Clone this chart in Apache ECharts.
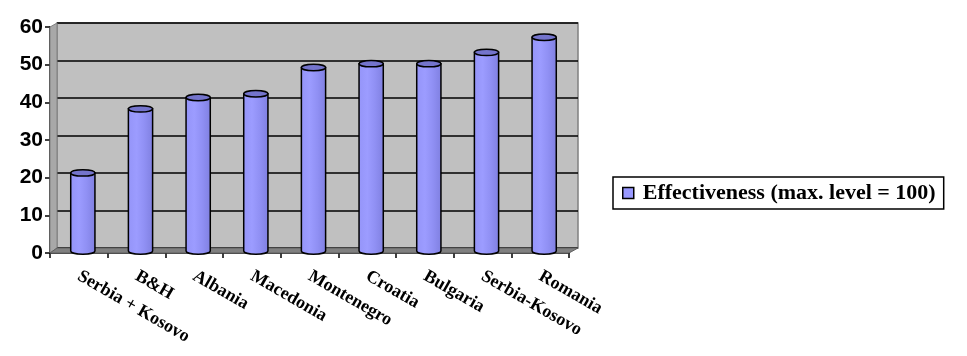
<!DOCTYPE html>
<html>
<head>
<meta charset="utf-8">
<script src="https://cdn.jsdelivr.net/npm/echarts@6/dist/echarts.min.js"></script>
<style>
  html, body { margin: 0; padding: 0; background: #fff; }
  #chart { width: 967px; height: 356px; }
</style>
</head>
<body>
<div id="chart"></div>
<script>
const countries = ['Serbia + Kosovo', 'B&H', 'Albania', 'Macedonia', 'Montenegro', 'Croatia', 'Bulgaria', 'Serbia-Kosovo', 'Romania'];
const effectiveness = [21, 38, 41, 42, 49, 50, 50, 53, 57];
const seriesName = 'Effectiveness (max. level = 100)';
const yTicks = [0, 10, 20, 30, 40, 50, 60];

// front plane (axes) and back wall, offset to fake the 3D depth
const front = { left: 50, top: 27, width: 519, height: 226 };
const back = { left: 57, top: 23, width: 521, height: 225 };

const chart = echarts.init(document.getElementById('chart'), null, { renderer: 'canvas' });

function cylinder(params, api) {
  const top = api.coord([api.value(0), api.value(1)]);
  const bottom = api.coord([api.value(0), 0]);
  const w = api.size([1, 0])[0] * 0.42;
  const cx = top[0] + 4;
  const l = cx - w / 2, r = cx + w / 2;
  const t = top[1] - 1, b = bottom[1] - 2;
  const rx = w / 2, ry = 3.2;
  return {
    type: 'group',
    children: [
      {
        type: 'path',
        shape: { pathData: `M${l},${t} L${l},${b} A${rx},${ry} 0 0 0 ${r},${b} L${r},${t} Z` },
        style: {
          fill: new echarts.graphic.LinearGradient(0, 0, 1, 0, [
            { offset: 0, color: '#9494f8' },
            { offset: 0.35, color: '#9c9cff' },
            { offset: 0.65, color: '#9090f4' },
            { offset: 1, color: '#7f7fe0' }
          ]),
          stroke: '#000', lineWidth: 1.5
        }
      },
      {
        type: 'path',
        shape: { pathData: `M${l},${t} A${rx},${ry} 0 1 0 ${r},${t} A${rx},${ry} 0 1 0 ${l},${t} Z` },
        style: { fill: '#7474cc', stroke: '#000', lineWidth: 1.5 }
      }
    ]
  };
}

const option = {
  animation: false,
  backgroundColor: '#ffffff',
  grid: [
    Object.assign({ show: false, containLabel: false }, front),
    Object.assign({ show: true, backgroundColor: '#c0c0c0', borderColor: '#808080', borderWidth: 1.5, containLabel: false, z: 0 }, back)
  ],
  xAxis: [
    {
      type: 'category', gridIndex: 0, data: countries,
      axisLine: { show: true, lineStyle: { color: '#000', width: 1.5 } },
      axisTick: { show: true, length: 5, lineStyle: { color: '#000', width: 1.5 } },
      axisLabel: {
        interval: 0, rotate: -30, margin: 22,
        color: '#000', fontFamily: 'Liberation Serif', fontWeight: 'bold', fontSize: 18
      }
    },
    { type: 'category', gridIndex: 1, data: countries, show: false }
  ],
  yAxis: [
    {
      type: 'value', gridIndex: 0, min: yTicks[0], max: yTicks[yTicks.length - 1], interval: 10,
      axisLine: { show: true, lineStyle: { color: '#000', width: 1.5 } },
      axisTick: { show: true, length: 5, lineStyle: { color: '#000', width: 1.5 } },
      splitLine: { show: false },
      axisLabel: { margin: 7, color: '#000', fontFamily: 'Liberation Sans', fontWeight: 'bold', fontSize: 21 }
    },
    {
      type: 'value', gridIndex: 1, min: yTicks[0], max: yTicks[yTicks.length - 1], interval: 10,
      axisLine: { show: false }, axisTick: { show: false }, axisLabel: { show: false },
      splitLine: { show: true, lineStyle: { color: '#000', width: 1.5 } }
    }
  ],
  legend: {
    data: [seriesName],
    orient: 'vertical',
    left: 613, top: 177,
    padding: [5, 8, 5, 9],
    borderColor: '#000', borderWidth: 1.5,
    icon: 'rect', itemWidth: 11, itemHeight: 11,
    itemStyle: { borderColor: '#000', borderWidth: 1.5 },
    textStyle: { color: '#000', fontFamily: 'Liberation Serif', fontWeight: 'bold', fontSize: 22, padding: [0, 0, 0, 4] }
  },
  graphic: [
    // left side wall
    {
      type: 'polygon', z: 1, silent: true,
      shape: { points: [[front.left, front.top], [back.left, back.top], [back.left, back.top + back.height], [front.left, front.top + front.height]] },
      style: { fill: '#a8a8a8', stroke: '#808080', lineWidth: 1 }
    },
    // floor
    {
      type: 'polygon', z: 1, silent: true,
      shape: { points: [[front.left, front.top + front.height], [back.left, back.top + back.height], [back.left + back.width, back.top + back.height], [front.left + front.width, front.top + front.height]] },
      style: { fill: '#808080', stroke: '#606060', lineWidth: 1 }
    }
  ],
  series: [
    {
      name: seriesName,
      type: 'custom',
      xAxisIndex: 0, yAxisIndex: 0,
      z: 5,
      itemStyle: { color: '#9999ff', borderColor: '#000', borderWidth: 1.5 },
      renderItem: cylinder,
      encode: { x: 0, y: 1 },
      data: effectiveness.map((v, i) => [i, v])
    }
  ]
};

chart.setOption(option);
</script>
</body>
</html>
